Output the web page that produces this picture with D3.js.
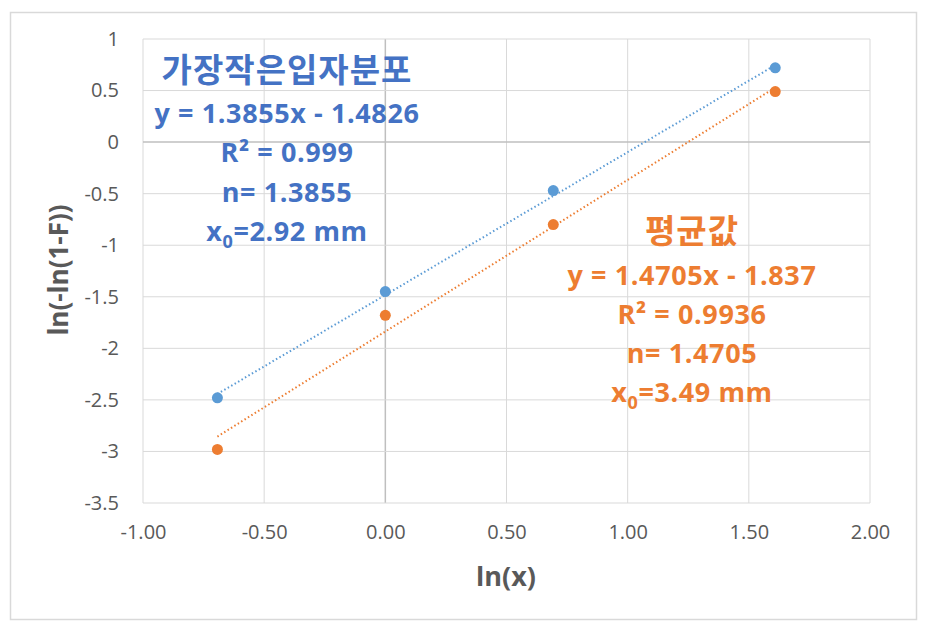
<!DOCTYPE html>
<html><head><meta charset="utf-8">
<script src="https://cdn.jsdelivr.net/npm/d3@7"></script>
<style>body{margin:0;background:#fff;}svg{display:block;}</style>
</head><body>
<svg id="c" width="929" height="632"></svg>
<script>
const xTicks = [-1.00, -0.50, 0.00, 0.50, 1.00, 1.50, 2.00];
const yTicks = [1, 0.5, 0, -0.5, -1, -1.5, -2, -2.5, -3, -3.5];
const lnX = [-0.693, 0.000, 0.693, 1.609];
const smallestY = [-2.48, -1.45, -0.47, 0.72];
const averageY = [-2.98, -1.68, -0.80, 0.49];
const smallestFit = [1.3855, -1.4826];
const averageFit = [1.4705, -1.837];
const smallestLabel = ["가장작은입자분포", "y = 1.3855x - 1.4826", "R² = 0.999", "n= 1.3855", "x0=2.92 mm"];
const averageLabel = ["평균값", "y = 1.4705x - 1.837", "R² = 0.9936", "n= 1.4705", "x0=3.49 mm"];
const xTitle = "ln(x)";
const yTitle = "ln(-ln(1-F))";

const svg = d3.select("#c");
const font = "'Open Sans','Noto Sans CJK KR',sans-serif";
const krFont = "'Noto Sans CJK KR',sans-serif";
const blue = "#5B9BD5", orange = "#ED7D31", blueText = "#4472C4";
const grey = "#595959";

svg.append("rect").attr("x",10.5).attr("y",12.5).attr("width",906).attr("height",607)
  .attr("fill","#fff").attr("stroke","#d9d9d9").attr("stroke-width",1.5);

const x = d3.scaleLinear().domain([-1,2]).range([143,870]);
const y = d3.scaleLinear().domain([-3.5,1]).range([503,39]);

// gridlines
const g = svg.append("g");
g.selectAll(".vg").data(xTicks).join("line")
  .attr("x1",d=>x(d)).attr("x2",d=>x(d)).attr("y1",y(1)).attr("y2",y(-3.5))
  .attr("stroke",d=>d===0?"#bfbfbf":"#d9d9d9").attr("stroke-width",d=>d===0?1.5:1);
g.selectAll(".hg").data(yTicks).join("line")
  .attr("y1",d=>y(d)).attr("y2",d=>y(d)).attr("x1",x(-1)).attr("x2",x(2))
  .attr("stroke",d=>d===0?"#bfbfbf":"#d9d9d9").attr("stroke-width",d=>d===0?1.5:1);

// axes labels via d3 axes
const yAxis = d3.axisLeft(y).tickValues(yTicks).tickFormat(d=>String(d)).tickSize(0).tickPadding(24);
const ya = svg.append("g").attr("transform",`translate(${x(-1)},0)`).call(yAxis);
ya.select(".domain").remove();
ya.selectAll("text").attr("font-family",font).attr("font-size",20).attr("fill",grey);

const fmt = d3.format(".2f");
const xAxis = d3.axisBottom(x).tickValues(xTicks).tickFormat(d=>fmt(d).replace("\u2212","-")).tickSize(0).tickPadding(22);
const xa = svg.append("g").attr("transform",`translate(0,${y(-3.5)})`).call(xAxis);
xa.select(".domain").remove();
xa.selectAll("text").attr("font-family",font).attr("font-size",20).attr("fill",grey);

svg.append("text").attr("x",506).attr("y",586).attr("text-anchor","middle")
  .attr("font-family",font).attr("font-size",27).attr("font-weight","bold").attr("fill",grey).text(xTitle);
svg.append("text").attr("transform",`translate(68,270) rotate(-90)`).attr("text-anchor","middle")
  .attr("font-family",font).attr("font-size",26).attr("font-weight","bold").attr("fill",grey).text(yTitle);

// trendlines
function trend(fit,color){
  const x0=d3.min(lnX), x1=d3.max(lnX);
  svg.append("line").attr("x1",x(x0)).attr("y1",y(fit[0]*x0+fit[1]))
    .attr("x2",x(x1)).attr("y2",y(fit[0]*x1+fit[1]))
    .attr("stroke",color).attr("stroke-width",2).attr("stroke-dasharray","1.5 2.5");
}
trend(smallestFit, blue);
trend(averageFit, orange);

function pts(vals,color){
  svg.append("g").selectAll("circle").data(vals).join("circle")
    .attr("cx",(d,i)=>x(lnX[i])).attr("cy",d=>y(d)).attr("r",5.5).attr("fill",color);
}
pts(smallestY, blue);
pts(averageY, orange);

// annotations
function label(lines,cx,ys,color){
  lines.forEach((t,i)=>{
    const tx = svg.append("text").attr("x",cx).attr("y",ys[i]).attr("text-anchor","middle")
      .attr("font-family",i===0?krFont:font).attr("font-weight","bold").attr("fill",color)
      .attr("font-size", i===0?33:27).attr("letter-spacing", i===0?1:0.6);
    if(t.startsWith("x0")){
      tx.append("tspan").text("x");
      tx.append("tspan").attr("font-size",18).attr("dy",7).text("0");
      tx.append("tspan").attr("dy",-7).text(t.slice(2));
    } else tx.text(t);
  });
}
label(smallestLabel, 287, [82,123,162,202,241], blueText);
label(averageLabel, 692, [243,285,324,363,402], orange);
</script>
</body></html>
